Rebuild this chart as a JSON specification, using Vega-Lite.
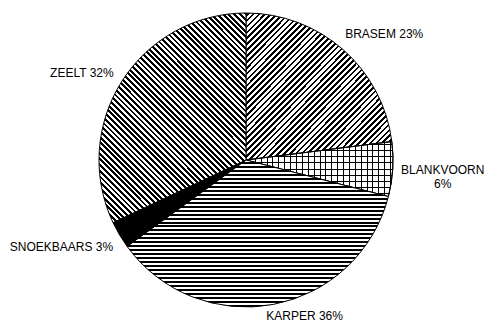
{
"$schema": "https://vega.github.io/schema/vega-lite/v6.json",
"width": 480, "height": 320,
"autosize": "none",
"padding": {"left": 6, "top": 0, "right": 0, "bottom": 3},
"background": "white",
"config": {"view": {"stroke": null}},
"data": {"values": [
{"name":"BRASEM","value":23,"label":"BRASEM 23%"},
{"name":"BLANKVOORN","value":6,"label":"BLANKVOORN\n6%"},
{"name":"KARPER","value":36,"label":"KARPER 36%"},
{"name":"SNOEKBAARS","value":3,"label":"SNOEKBAARS 3%"},
{"name":"ZEELT","value":32,"label":"ZEELT 32%"}
]},
"transform": [
{"stack": "value", "groupby": [], "as": ["v0", "v1"]},
{"calculate": "(datum.v0 + datum.v1) / 2", "as": "mid"}
],
"layer": [
{"transform": [{"filter": "datum.name === 'BRASEM'"}],
 "mark": {"type": "arc", "outerRadius": 147, "stroke": "#000", "strokeWidth": 1,
  "fill": {"gradient": "linear", "x1": 0, "y1": 0, "x2": 1, "y2": 1, "stops": [
{"offset":0,"color":"#fff"},
{"offset":0.005,"color":"#fff"},{"offset":0.005,"color":"#000"},{"offset":0.014,"color":"#000"},{"offset":0.014,"color":"#fff"},
{"offset":0.025,"color":"#fff"},{"offset":0.025,"color":"#000"},{"offset":0.034,"color":"#000"},{"offset":0.034,"color":"#fff"},
{"offset":0.045,"color":"#fff"},{"offset":0.045,"color":"#000"},{"offset":0.054,"color":"#000"},{"offset":0.054,"color":"#fff"},
{"offset":0.065,"color":"#fff"},{"offset":0.065,"color":"#000"},{"offset":0.074,"color":"#000"},{"offset":0.074,"color":"#fff"},
{"offset":0.085,"color":"#fff"},{"offset":0.085,"color":"#000"},{"offset":0.094,"color":"#000"},{"offset":0.094,"color":"#fff"},
{"offset":0.105,"color":"#fff"},{"offset":0.105,"color":"#000"},{"offset":0.114,"color":"#000"},{"offset":0.114,"color":"#fff"},
{"offset":0.125,"color":"#fff"},{"offset":0.125,"color":"#000"},{"offset":0.134,"color":"#000"},{"offset":0.134,"color":"#fff"},
{"offset":0.145,"color":"#fff"},{"offset":0.145,"color":"#000"},{"offset":0.154,"color":"#000"},{"offset":0.154,"color":"#fff"},
{"offset":0.165,"color":"#fff"},{"offset":0.165,"color":"#000"},{"offset":0.174,"color":"#000"},{"offset":0.174,"color":"#fff"},
{"offset":0.185,"color":"#fff"},{"offset":0.185,"color":"#000"},{"offset":0.194,"color":"#000"},{"offset":0.194,"color":"#fff"},
{"offset":0.205,"color":"#fff"},{"offset":0.205,"color":"#000"},{"offset":0.214,"color":"#000"},{"offset":0.214,"color":"#fff"},
{"offset":0.225,"color":"#fff"},{"offset":0.225,"color":"#000"},{"offset":0.234,"color":"#000"},{"offset":0.234,"color":"#fff"},
{"offset":0.245,"color":"#fff"},{"offset":0.245,"color":"#000"},{"offset":0.254,"color":"#000"},{"offset":0.254,"color":"#fff"},
{"offset":0.265,"color":"#fff"},{"offset":0.265,"color":"#000"},{"offset":0.274,"color":"#000"},{"offset":0.274,"color":"#fff"},
{"offset":0.285,"color":"#fff"},{"offset":0.285,"color":"#000"},{"offset":0.294,"color":"#000"},{"offset":0.294,"color":"#fff"},
{"offset":0.305,"color":"#fff"},{"offset":0.305,"color":"#000"},{"offset":0.314,"color":"#000"},{"offset":0.314,"color":"#fff"},
{"offset":0.325,"color":"#fff"},{"offset":0.325,"color":"#000"},{"offset":0.334,"color":"#000"},{"offset":0.334,"color":"#fff"},
{"offset":0.345,"color":"#fff"},{"offset":0.345,"color":"#000"},{"offset":0.354,"color":"#000"},{"offset":0.354,"color":"#fff"},
{"offset":0.365,"color":"#fff"},{"offset":0.365,"color":"#000"},{"offset":0.374,"color":"#000"},{"offset":0.374,"color":"#fff"},
{"offset":0.385,"color":"#fff"},{"offset":0.385,"color":"#000"},{"offset":0.394,"color":"#000"},{"offset":0.394,"color":"#fff"},
{"offset":0.405,"color":"#fff"},{"offset":0.405,"color":"#000"},{"offset":0.414,"color":"#000"},{"offset":0.414,"color":"#fff"},
{"offset":0.425,"color":"#fff"},{"offset":0.425,"color":"#000"},{"offset":0.434,"color":"#000"},{"offset":0.434,"color":"#fff"},
{"offset":0.445,"color":"#fff"},{"offset":0.445,"color":"#000"},{"offset":0.454,"color":"#000"},{"offset":0.454,"color":"#fff"},
{"offset":0.465,"color":"#fff"},{"offset":0.465,"color":"#000"},{"offset":0.474,"color":"#000"},{"offset":0.474,"color":"#fff"},
{"offset":0.485,"color":"#fff"},{"offset":0.485,"color":"#000"},{"offset":0.494,"color":"#000"},{"offset":0.494,"color":"#fff"},
{"offset":0.505,"color":"#fff"},{"offset":0.505,"color":"#000"},{"offset":0.514,"color":"#000"},{"offset":0.514,"color":"#fff"},
{"offset":0.525,"color":"#fff"},{"offset":0.525,"color":"#000"},{"offset":0.534,"color":"#000"},{"offset":0.534,"color":"#fff"},
{"offset":0.545,"color":"#fff"},{"offset":0.545,"color":"#000"},{"offset":0.554,"color":"#000"},{"offset":0.554,"color":"#fff"},
{"offset":0.565,"color":"#fff"},{"offset":0.565,"color":"#000"},{"offset":0.574,"color":"#000"},{"offset":0.574,"color":"#fff"},
{"offset":0.585,"color":"#fff"},{"offset":0.585,"color":"#000"},{"offset":0.594,"color":"#000"},{"offset":0.594,"color":"#fff"},
{"offset":0.605,"color":"#fff"},{"offset":0.605,"color":"#000"},{"offset":0.614,"color":"#000"},{"offset":0.614,"color":"#fff"},
{"offset":0.625,"color":"#fff"},{"offset":0.625,"color":"#000"},{"offset":0.634,"color":"#000"},{"offset":0.634,"color":"#fff"},
{"offset":0.645,"color":"#fff"},{"offset":0.645,"color":"#000"},{"offset":0.654,"color":"#000"},{"offset":0.654,"color":"#fff"},
{"offset":0.665,"color":"#fff"},{"offset":0.665,"color":"#000"},{"offset":0.674,"color":"#000"},{"offset":0.674,"color":"#fff"},
{"offset":0.685,"color":"#fff"},{"offset":0.685,"color":"#000"},{"offset":0.694,"color":"#000"},{"offset":0.694,"color":"#fff"},
{"offset":0.705,"color":"#fff"},{"offset":0.705,"color":"#000"},{"offset":0.714,"color":"#000"},{"offset":0.714,"color":"#fff"},
{"offset":0.725,"color":"#fff"},{"offset":0.725,"color":"#000"},{"offset":0.734,"color":"#000"},{"offset":0.734,"color":"#fff"},
{"offset":0.745,"color":"#fff"},{"offset":0.745,"color":"#000"},{"offset":0.754,"color":"#000"},{"offset":0.754,"color":"#fff"},
{"offset":0.765,"color":"#fff"},{"offset":0.765,"color":"#000"},{"offset":0.774,"color":"#000"},{"offset":0.774,"color":"#fff"},
{"offset":0.785,"color":"#fff"},{"offset":0.785,"color":"#000"},{"offset":0.794,"color":"#000"},{"offset":0.794,"color":"#fff"},
{"offset":0.805,"color":"#fff"},{"offset":0.805,"color":"#000"},{"offset":0.814,"color":"#000"},{"offset":0.814,"color":"#fff"},
{"offset":0.825,"color":"#fff"},{"offset":0.825,"color":"#000"},{"offset":0.834,"color":"#000"},{"offset":0.834,"color":"#fff"},
{"offset":0.845,"color":"#fff"},{"offset":0.845,"color":"#000"},{"offset":0.854,"color":"#000"},{"offset":0.854,"color":"#fff"},
{"offset":0.865,"color":"#fff"},{"offset":0.865,"color":"#000"},{"offset":0.874,"color":"#000"},{"offset":0.874,"color":"#fff"},
{"offset":0.885,"color":"#fff"},{"offset":0.885,"color":"#000"},{"offset":0.894,"color":"#000"},{"offset":0.894,"color":"#fff"},
{"offset":0.905,"color":"#fff"},{"offset":0.905,"color":"#000"},{"offset":0.914,"color":"#000"},{"offset":0.914,"color":"#fff"},
{"offset":0.925,"color":"#fff"},{"offset":0.925,"color":"#000"},{"offset":0.934,"color":"#000"},{"offset":0.934,"color":"#fff"},
{"offset":0.945,"color":"#fff"},{"offset":0.945,"color":"#000"},{"offset":0.954,"color":"#000"},{"offset":0.954,"color":"#fff"},
{"offset":0.965,"color":"#fff"},{"offset":0.965,"color":"#000"},{"offset":0.974,"color":"#000"},{"offset":0.974,"color":"#fff"},
{"offset":0.985,"color":"#fff"},{"offset":0.985,"color":"#000"},{"offset":0.994,"color":"#000"},{"offset":0.994,"color":"#fff"},
{"offset":1,"color":"#fff"}
  ]}},
 "encoding": {"theta": {"field": "v0", "type": "quantitative", "stack": null, "scale": {"domain": [0, 100]}}, "theta2": {"field": "v1"}}},
{"transform": [{"filter": "datum.name === 'BLANKVOORN'"}],
 "mark": {"type": "arc", "outerRadius": 147, "stroke": "#000", "strokeWidth": 1,
  "fill": {"gradient": "linear", "x1": 0, "y1": 0, "x2": 1, "y2": 0, "stops": [
{"offset":0,"color":"#fff"},
{"offset":0.02,"color":"#fff"},{"offset":0.02,"color":"#000"},{"offset":0.027,"color":"#000"},{"offset":0.027,"color":"#fff"},
{"offset":0.06,"color":"#fff"},{"offset":0.06,"color":"#000"},{"offset":0.067,"color":"#000"},{"offset":0.067,"color":"#fff"},
{"offset":0.1,"color":"#fff"},{"offset":0.1,"color":"#000"},{"offset":0.107,"color":"#000"},{"offset":0.107,"color":"#fff"},
{"offset":0.14,"color":"#fff"},{"offset":0.14,"color":"#000"},{"offset":0.147,"color":"#000"},{"offset":0.147,"color":"#fff"},
{"offset":0.18,"color":"#fff"},{"offset":0.18,"color":"#000"},{"offset":0.187,"color":"#000"},{"offset":0.187,"color":"#fff"},
{"offset":0.22,"color":"#fff"},{"offset":0.22,"color":"#000"},{"offset":0.227,"color":"#000"},{"offset":0.227,"color":"#fff"},
{"offset":0.26,"color":"#fff"},{"offset":0.26,"color":"#000"},{"offset":0.267,"color":"#000"},{"offset":0.267,"color":"#fff"},
{"offset":0.3,"color":"#fff"},{"offset":0.3,"color":"#000"},{"offset":0.307,"color":"#000"},{"offset":0.307,"color":"#fff"},
{"offset":0.34,"color":"#fff"},{"offset":0.34,"color":"#000"},{"offset":0.347,"color":"#000"},{"offset":0.347,"color":"#fff"},
{"offset":0.38,"color":"#fff"},{"offset":0.38,"color":"#000"},{"offset":0.387,"color":"#000"},{"offset":0.387,"color":"#fff"},
{"offset":0.42,"color":"#fff"},{"offset":0.42,"color":"#000"},{"offset":0.427,"color":"#000"},{"offset":0.427,"color":"#fff"},
{"offset":0.46,"color":"#fff"},{"offset":0.46,"color":"#000"},{"offset":0.467,"color":"#000"},{"offset":0.467,"color":"#fff"},
{"offset":0.5,"color":"#fff"},{"offset":0.5,"color":"#000"},{"offset":0.507,"color":"#000"},{"offset":0.507,"color":"#fff"},
{"offset":0.54,"color":"#fff"},{"offset":0.54,"color":"#000"},{"offset":0.547,"color":"#000"},{"offset":0.547,"color":"#fff"},
{"offset":0.58,"color":"#fff"},{"offset":0.58,"color":"#000"},{"offset":0.587,"color":"#000"},{"offset":0.587,"color":"#fff"},
{"offset":0.62,"color":"#fff"},{"offset":0.62,"color":"#000"},{"offset":0.627,"color":"#000"},{"offset":0.627,"color":"#fff"},
{"offset":0.66,"color":"#fff"},{"offset":0.66,"color":"#000"},{"offset":0.667,"color":"#000"},{"offset":0.667,"color":"#fff"},
{"offset":0.7,"color":"#fff"},{"offset":0.7,"color":"#000"},{"offset":0.707,"color":"#000"},{"offset":0.707,"color":"#fff"},
{"offset":0.74,"color":"#fff"},{"offset":0.74,"color":"#000"},{"offset":0.747,"color":"#000"},{"offset":0.747,"color":"#fff"},
{"offset":0.78,"color":"#fff"},{"offset":0.78,"color":"#000"},{"offset":0.787,"color":"#000"},{"offset":0.787,"color":"#fff"},
{"offset":0.82,"color":"#fff"},{"offset":0.82,"color":"#000"},{"offset":0.827,"color":"#000"},{"offset":0.827,"color":"#fff"},
{"offset":0.86,"color":"#fff"},{"offset":0.86,"color":"#000"},{"offset":0.867,"color":"#000"},{"offset":0.867,"color":"#fff"},
{"offset":0.9,"color":"#fff"},{"offset":0.9,"color":"#000"},{"offset":0.907,"color":"#000"},{"offset":0.907,"color":"#fff"},
{"offset":0.94,"color":"#fff"},{"offset":0.94,"color":"#000"},{"offset":0.947,"color":"#000"},{"offset":0.947,"color":"#fff"},
{"offset":0.98,"color":"#fff"},{"offset":0.98,"color":"#000"},{"offset":0.987,"color":"#000"},{"offset":0.987,"color":"#fff"},
{"offset":1,"color":"#fff"}
  ]}},
 "encoding": {"theta": {"field": "v0", "type": "quantitative", "stack": null, "scale": {"domain": [0, 100]}}, "theta2": {"field": "v1"}}},
{"transform": [{"filter": "datum.name === 'BLANKVOORN'"}],
 "mark": {"type": "arc", "outerRadius": 147, "stroke": "#000", "strokeWidth": 1,
  "fill": {"gradient": "linear", "x1": 0, "y1": 0, "x2": 0, "y2": 1, "stops": [
{"offset":0,"color":"rgba(0,0,0,0)"},
{"offset":0.05,"color":"rgba(0,0,0,0)"},{"offset":0.05,"color":"#000"},{"offset":0.068,"color":"#000"},{"offset":0.068,"color":"rgba(0,0,0,0)"},
{"offset":0.16,"color":"rgba(0,0,0,0)"},{"offset":0.16,"color":"#000"},{"offset":0.178,"color":"#000"},{"offset":0.178,"color":"rgba(0,0,0,0)"},
{"offset":0.27,"color":"rgba(0,0,0,0)"},{"offset":0.27,"color":"#000"},{"offset":0.288,"color":"#000"},{"offset":0.288,"color":"rgba(0,0,0,0)"},
{"offset":0.38,"color":"rgba(0,0,0,0)"},{"offset":0.38,"color":"#000"},{"offset":0.398,"color":"#000"},{"offset":0.398,"color":"rgba(0,0,0,0)"},
{"offset":0.49,"color":"rgba(0,0,0,0)"},{"offset":0.49,"color":"#000"},{"offset":0.508,"color":"#000"},{"offset":0.508,"color":"rgba(0,0,0,0)"},
{"offset":0.6,"color":"rgba(0,0,0,0)"},{"offset":0.6,"color":"#000"},{"offset":0.618,"color":"#000"},{"offset":0.618,"color":"rgba(0,0,0,0)"},
{"offset":0.71,"color":"rgba(0,0,0,0)"},{"offset":0.71,"color":"#000"},{"offset":0.728,"color":"#000"},{"offset":0.728,"color":"rgba(0,0,0,0)"},
{"offset":0.82,"color":"rgba(0,0,0,0)"},{"offset":0.82,"color":"#000"},{"offset":0.838,"color":"#000"},{"offset":0.838,"color":"rgba(0,0,0,0)"},
{"offset":0.93,"color":"rgba(0,0,0,0)"},{"offset":0.93,"color":"#000"},{"offset":0.948,"color":"#000"},{"offset":0.948,"color":"rgba(0,0,0,0)"},
{"offset":1,"color":"rgba(0,0,0,0)"}
  ]}},
 "encoding": {"theta": {"field": "v0", "type": "quantitative", "stack": null, "scale": {"domain": [0, 100]}}, "theta2": {"field": "v1"}}},
{"transform": [{"filter": "datum.name === 'KARPER'"}],
 "mark": {"type": "arc", "outerRadius": 147, "stroke": "#000", "strokeWidth": 1,
  "fill": {"gradient": "linear", "x1": 0, "y1": 0, "x2": 0, "y2": 1, "stops": [
{"offset":0,"color":"#fff"},
{"offset":0.0135,"color":"#fff"},{"offset":0.0135,"color":"#000"},{"offset":0.027,"color":"#000"},{"offset":0.027,"color":"#fff"},
{"offset":0.0405,"color":"#fff"},{"offset":0.0405,"color":"#000"},{"offset":0.054,"color":"#000"},{"offset":0.054,"color":"#fff"},
{"offset":0.0675,"color":"#fff"},{"offset":0.0675,"color":"#000"},{"offset":0.081,"color":"#000"},{"offset":0.081,"color":"#fff"},
{"offset":0.0945,"color":"#fff"},{"offset":0.0945,"color":"#000"},{"offset":0.108,"color":"#000"},{"offset":0.108,"color":"#fff"},
{"offset":0.1215,"color":"#fff"},{"offset":0.1215,"color":"#000"},{"offset":0.135,"color":"#000"},{"offset":0.135,"color":"#fff"},
{"offset":0.1485,"color":"#fff"},{"offset":0.1485,"color":"#000"},{"offset":0.162,"color":"#000"},{"offset":0.162,"color":"#fff"},
{"offset":0.1755,"color":"#fff"},{"offset":0.1755,"color":"#000"},{"offset":0.189,"color":"#000"},{"offset":0.189,"color":"#fff"},
{"offset":0.2025,"color":"#fff"},{"offset":0.2025,"color":"#000"},{"offset":0.216,"color":"#000"},{"offset":0.216,"color":"#fff"},
{"offset":0.2295,"color":"#fff"},{"offset":0.2295,"color":"#000"},{"offset":0.243,"color":"#000"},{"offset":0.243,"color":"#fff"},
{"offset":0.2565,"color":"#fff"},{"offset":0.2565,"color":"#000"},{"offset":0.27,"color":"#000"},{"offset":0.27,"color":"#fff"},
{"offset":0.2835,"color":"#fff"},{"offset":0.2835,"color":"#000"},{"offset":0.297,"color":"#000"},{"offset":0.297,"color":"#fff"},
{"offset":0.3105,"color":"#fff"},{"offset":0.3105,"color":"#000"},{"offset":0.324,"color":"#000"},{"offset":0.324,"color":"#fff"},
{"offset":0.3375,"color":"#fff"},{"offset":0.3375,"color":"#000"},{"offset":0.351,"color":"#000"},{"offset":0.351,"color":"#fff"},
{"offset":0.3645,"color":"#fff"},{"offset":0.3645,"color":"#000"},{"offset":0.378,"color":"#000"},{"offset":0.378,"color":"#fff"},
{"offset":0.3915,"color":"#fff"},{"offset":0.3915,"color":"#000"},{"offset":0.405,"color":"#000"},{"offset":0.405,"color":"#fff"},
{"offset":0.4185,"color":"#fff"},{"offset":0.4185,"color":"#000"},{"offset":0.432,"color":"#000"},{"offset":0.432,"color":"#fff"},
{"offset":0.4455,"color":"#fff"},{"offset":0.4455,"color":"#000"},{"offset":0.459,"color":"#000"},{"offset":0.459,"color":"#fff"},
{"offset":0.4725,"color":"#fff"},{"offset":0.4725,"color":"#000"},{"offset":0.486,"color":"#000"},{"offset":0.486,"color":"#fff"},
{"offset":0.4995,"color":"#fff"},{"offset":0.4995,"color":"#000"},{"offset":0.513,"color":"#000"},{"offset":0.513,"color":"#fff"},
{"offset":0.5265,"color":"#fff"},{"offset":0.5265,"color":"#000"},{"offset":0.54,"color":"#000"},{"offset":0.54,"color":"#fff"},
{"offset":0.5535,"color":"#fff"},{"offset":0.5535,"color":"#000"},{"offset":0.567,"color":"#000"},{"offset":0.567,"color":"#fff"},
{"offset":0.5805,"color":"#fff"},{"offset":0.5805,"color":"#000"},{"offset":0.594,"color":"#000"},{"offset":0.594,"color":"#fff"},
{"offset":0.6075,"color":"#fff"},{"offset":0.6075,"color":"#000"},{"offset":0.621,"color":"#000"},{"offset":0.621,"color":"#fff"},
{"offset":0.6345,"color":"#fff"},{"offset":0.6345,"color":"#000"},{"offset":0.648,"color":"#000"},{"offset":0.648,"color":"#fff"},
{"offset":0.6615,"color":"#fff"},{"offset":0.6615,"color":"#000"},{"offset":0.675,"color":"#000"},{"offset":0.675,"color":"#fff"},
{"offset":0.6885,"color":"#fff"},{"offset":0.6885,"color":"#000"},{"offset":0.702,"color":"#000"},{"offset":0.702,"color":"#fff"},
{"offset":0.7155,"color":"#fff"},{"offset":0.7155,"color":"#000"},{"offset":0.729,"color":"#000"},{"offset":0.729,"color":"#fff"},
{"offset":0.7425,"color":"#fff"},{"offset":0.7425,"color":"#000"},{"offset":0.756,"color":"#000"},{"offset":0.756,"color":"#fff"},
{"offset":0.7695,"color":"#fff"},{"offset":0.7695,"color":"#000"},{"offset":0.783,"color":"#000"},{"offset":0.783,"color":"#fff"},
{"offset":0.7965,"color":"#fff"},{"offset":0.7965,"color":"#000"},{"offset":0.81,"color":"#000"},{"offset":0.81,"color":"#fff"},
{"offset":0.8235,"color":"#fff"},{"offset":0.8235,"color":"#000"},{"offset":0.837,"color":"#000"},{"offset":0.837,"color":"#fff"},
{"offset":0.8505,"color":"#fff"},{"offset":0.8505,"color":"#000"},{"offset":0.864,"color":"#000"},{"offset":0.864,"color":"#fff"},
{"offset":0.8775,"color":"#fff"},{"offset":0.8775,"color":"#000"},{"offset":0.891,"color":"#000"},{"offset":0.891,"color":"#fff"},
{"offset":0.9045,"color":"#fff"},{"offset":0.9045,"color":"#000"},{"offset":0.918,"color":"#000"},{"offset":0.918,"color":"#fff"},
{"offset":0.9315,"color":"#fff"},{"offset":0.9315,"color":"#000"},{"offset":0.945,"color":"#000"},{"offset":0.945,"color":"#fff"},
{"offset":0.9585,"color":"#fff"},{"offset":0.9585,"color":"#000"},{"offset":0.972,"color":"#000"},{"offset":0.972,"color":"#fff"},
{"offset":0.9855,"color":"#fff"},{"offset":0.9855,"color":"#000"},{"offset":0.999,"color":"#000"},{"offset":0.999,"color":"#fff"},
{"offset":1,"color":"#fff"}
  ]}},
 "encoding": {"theta": {"field": "v0", "type": "quantitative", "stack": null, "scale": {"domain": [0, 100]}}, "theta2": {"field": "v1"}}},
{"transform": [{"filter": "datum.name === 'SNOEKBAARS'"}],
 "mark": {"type": "arc", "outerRadius": 147, "stroke": "#000", "strokeWidth": 1, "fill": "#000"},
 "encoding": {"theta": {"field": "v0", "type": "quantitative", "stack": null, "scale": {"domain": [0, 100]}}, "theta2": {"field": "v1"}}},
{"transform": [{"filter": "datum.name === 'ZEELT'"}],
 "mark": {"type": "arc", "outerRadius": 147, "stroke": "#000", "strokeWidth": 1,
  "fill": {"gradient": "linear", "x1": 0, "y1": 1, "x2": 0.8, "y2": -0.14, "stops": [
{"offset":0,"color":"#000"},
{"offset":0.008,"color":"#000"},{"offset":0.008,"color":"#fff"},{"offset":0.016,"color":"#fff"},{"offset":0.016,"color":"#000"},
{"offset":0.024,"color":"#000"},{"offset":0.024,"color":"#fff"},{"offset":0.032,"color":"#fff"},{"offset":0.032,"color":"#000"},
{"offset":0.04,"color":"#000"},{"offset":0.04,"color":"#fff"},{"offset":0.048,"color":"#fff"},{"offset":0.048,"color":"#000"},
{"offset":0.056,"color":"#000"},{"offset":0.056,"color":"#fff"},{"offset":0.064,"color":"#fff"},{"offset":0.064,"color":"#000"},
{"offset":0.072,"color":"#000"},{"offset":0.072,"color":"#fff"},{"offset":0.08,"color":"#fff"},{"offset":0.08,"color":"#000"},
{"offset":0.088,"color":"#000"},{"offset":0.088,"color":"#fff"},{"offset":0.096,"color":"#fff"},{"offset":0.096,"color":"#000"},
{"offset":0.104,"color":"#000"},{"offset":0.104,"color":"#fff"},{"offset":0.112,"color":"#fff"},{"offset":0.112,"color":"#000"},
{"offset":0.12,"color":"#000"},{"offset":0.12,"color":"#fff"},{"offset":0.128,"color":"#fff"},{"offset":0.128,"color":"#000"},
{"offset":0.136,"color":"#000"},{"offset":0.136,"color":"#fff"},{"offset":0.144,"color":"#fff"},{"offset":0.144,"color":"#000"},
{"offset":0.152,"color":"#000"},{"offset":0.152,"color":"#fff"},{"offset":0.16,"color":"#fff"},{"offset":0.16,"color":"#000"},
{"offset":0.168,"color":"#000"},{"offset":0.168,"color":"#fff"},{"offset":0.176,"color":"#fff"},{"offset":0.176,"color":"#000"},
{"offset":0.184,"color":"#000"},{"offset":0.184,"color":"#fff"},{"offset":0.192,"color":"#fff"},{"offset":0.192,"color":"#000"},
{"offset":0.2,"color":"#000"},{"offset":0.2,"color":"#fff"},{"offset":0.208,"color":"#fff"},{"offset":0.208,"color":"#000"},
{"offset":0.216,"color":"#000"},{"offset":0.216,"color":"#fff"},{"offset":0.224,"color":"#fff"},{"offset":0.224,"color":"#000"},
{"offset":0.232,"color":"#000"},{"offset":0.232,"color":"#fff"},{"offset":0.24,"color":"#fff"},{"offset":0.24,"color":"#000"},
{"offset":0.248,"color":"#000"},{"offset":0.248,"color":"#fff"},{"offset":0.256,"color":"#fff"},{"offset":0.256,"color":"#000"},
{"offset":0.264,"color":"#000"},{"offset":0.264,"color":"#fff"},{"offset":0.272,"color":"#fff"},{"offset":0.272,"color":"#000"},
{"offset":0.28,"color":"#000"},{"offset":0.28,"color":"#fff"},{"offset":0.288,"color":"#fff"},{"offset":0.288,"color":"#000"},
{"offset":0.296,"color":"#000"},{"offset":0.296,"color":"#fff"},{"offset":0.304,"color":"#fff"},{"offset":0.304,"color":"#000"},
{"offset":0.312,"color":"#000"},{"offset":0.312,"color":"#fff"},{"offset":0.32,"color":"#fff"},{"offset":0.32,"color":"#000"},
{"offset":0.328,"color":"#000"},{"offset":0.328,"color":"#fff"},{"offset":0.336,"color":"#fff"},{"offset":0.336,"color":"#000"},
{"offset":0.344,"color":"#000"},{"offset":0.344,"color":"#fff"},{"offset":0.352,"color":"#fff"},{"offset":0.352,"color":"#000"},
{"offset":0.36,"color":"#000"},{"offset":0.36,"color":"#fff"},{"offset":0.368,"color":"#fff"},{"offset":0.368,"color":"#000"},
{"offset":0.376,"color":"#000"},{"offset":0.376,"color":"#fff"},{"offset":0.384,"color":"#fff"},{"offset":0.384,"color":"#000"},
{"offset":0.392,"color":"#000"},{"offset":0.392,"color":"#fff"},{"offset":0.4,"color":"#fff"},{"offset":0.4,"color":"#000"},
{"offset":0.408,"color":"#000"},{"offset":0.408,"color":"#fff"},{"offset":0.416,"color":"#fff"},{"offset":0.416,"color":"#000"},
{"offset":0.424,"color":"#000"},{"offset":0.424,"color":"#fff"},{"offset":0.432,"color":"#fff"},{"offset":0.432,"color":"#000"},
{"offset":0.44,"color":"#000"},{"offset":0.44,"color":"#fff"},{"offset":0.448,"color":"#fff"},{"offset":0.448,"color":"#000"},
{"offset":0.456,"color":"#000"},{"offset":0.456,"color":"#fff"},{"offset":0.464,"color":"#fff"},{"offset":0.464,"color":"#000"},
{"offset":0.472,"color":"#000"},{"offset":0.472,"color":"#fff"},{"offset":0.48,"color":"#fff"},{"offset":0.48,"color":"#000"},
{"offset":0.488,"color":"#000"},{"offset":0.488,"color":"#fff"},{"offset":0.496,"color":"#fff"},{"offset":0.496,"color":"#000"},
{"offset":0.504,"color":"#000"},{"offset":0.504,"color":"#fff"},{"offset":0.512,"color":"#fff"},{"offset":0.512,"color":"#000"},
{"offset":0.52,"color":"#000"},{"offset":0.52,"color":"#fff"},{"offset":0.528,"color":"#fff"},{"offset":0.528,"color":"#000"},
{"offset":0.536,"color":"#000"},{"offset":0.536,"color":"#fff"},{"offset":0.544,"color":"#fff"},{"offset":0.544,"color":"#000"},
{"offset":0.552,"color":"#000"},{"offset":0.552,"color":"#fff"},{"offset":0.56,"color":"#fff"},{"offset":0.56,"color":"#000"},
{"offset":0.568,"color":"#000"},{"offset":0.568,"color":"#fff"},{"offset":0.576,"color":"#fff"},{"offset":0.576,"color":"#000"},
{"offset":0.584,"color":"#000"},{"offset":0.584,"color":"#fff"},{"offset":0.592,"color":"#fff"},{"offset":0.592,"color":"#000"},
{"offset":0.6,"color":"#000"},{"offset":0.6,"color":"#fff"},{"offset":0.608,"color":"#fff"},{"offset":0.608,"color":"#000"},
{"offset":0.616,"color":"#000"},{"offset":0.616,"color":"#fff"},{"offset":0.624,"color":"#fff"},{"offset":0.624,"color":"#000"},
{"offset":0.632,"color":"#000"},{"offset":0.632,"color":"#fff"},{"offset":0.64,"color":"#fff"},{"offset":0.64,"color":"#000"},
{"offset":0.648,"color":"#000"},{"offset":0.648,"color":"#fff"},{"offset":0.656,"color":"#fff"},{"offset":0.656,"color":"#000"},
{"offset":0.664,"color":"#000"},{"offset":0.664,"color":"#fff"},{"offset":0.672,"color":"#fff"},{"offset":0.672,"color":"#000"},
{"offset":0.68,"color":"#000"},{"offset":0.68,"color":"#fff"},{"offset":0.688,"color":"#fff"},{"offset":0.688,"color":"#000"},
{"offset":0.696,"color":"#000"},{"offset":0.696,"color":"#fff"},{"offset":0.704,"color":"#fff"},{"offset":0.704,"color":"#000"},
{"offset":0.712,"color":"#000"},{"offset":0.712,"color":"#fff"},{"offset":0.72,"color":"#fff"},{"offset":0.72,"color":"#000"},
{"offset":0.728,"color":"#000"},{"offset":0.728,"color":"#fff"},{"offset":0.736,"color":"#fff"},{"offset":0.736,"color":"#000"},
{"offset":0.744,"color":"#000"},{"offset":0.744,"color":"#fff"},{"offset":0.752,"color":"#fff"},{"offset":0.752,"color":"#000"},
{"offset":0.76,"color":"#000"},{"offset":0.76,"color":"#fff"},{"offset":0.768,"color":"#fff"},{"offset":0.768,"color":"#000"},
{"offset":0.776,"color":"#000"},{"offset":0.776,"color":"#fff"},{"offset":0.784,"color":"#fff"},{"offset":0.784,"color":"#000"},
{"offset":0.792,"color":"#000"},{"offset":0.792,"color":"#fff"},{"offset":0.8,"color":"#fff"},{"offset":0.8,"color":"#000"},
{"offset":0.808,"color":"#000"},{"offset":0.808,"color":"#fff"},{"offset":0.816,"color":"#fff"},{"offset":0.816,"color":"#000"},
{"offset":0.824,"color":"#000"},{"offset":0.824,"color":"#fff"},{"offset":0.832,"color":"#fff"},{"offset":0.832,"color":"#000"},
{"offset":0.84,"color":"#000"},{"offset":0.84,"color":"#fff"},{"offset":0.848,"color":"#fff"},{"offset":0.848,"color":"#000"},
{"offset":0.856,"color":"#000"},{"offset":0.856,"color":"#fff"},{"offset":0.864,"color":"#fff"},{"offset":0.864,"color":"#000"},
{"offset":0.872,"color":"#000"},{"offset":0.872,"color":"#fff"},{"offset":0.88,"color":"#fff"},{"offset":0.88,"color":"#000"},
{"offset":0.888,"color":"#000"},{"offset":0.888,"color":"#fff"},{"offset":0.896,"color":"#fff"},{"offset":0.896,"color":"#000"},
{"offset":0.904,"color":"#000"},{"offset":0.904,"color":"#fff"},{"offset":0.912,"color":"#fff"},{"offset":0.912,"color":"#000"},
{"offset":0.92,"color":"#000"},{"offset":0.92,"color":"#fff"},{"offset":0.928,"color":"#fff"},{"offset":0.928,"color":"#000"},
{"offset":0.936,"color":"#000"},{"offset":0.936,"color":"#fff"},{"offset":0.944,"color":"#fff"},{"offset":0.944,"color":"#000"},
{"offset":0.952,"color":"#000"},{"offset":0.952,"color":"#fff"},{"offset":0.96,"color":"#fff"},{"offset":0.96,"color":"#000"},
{"offset":0.968,"color":"#000"},{"offset":0.968,"color":"#fff"},{"offset":0.976,"color":"#fff"},{"offset":0.976,"color":"#000"},
{"offset":0.984,"color":"#000"},{"offset":0.984,"color":"#fff"},{"offset":0.992,"color":"#fff"},{"offset":0.992,"color":"#000"},
{"offset":1,"color":"#000"}
  ]}},
 "encoding": {"theta": {"field": "v0", "type": "quantitative", "stack": null, "scale": {"domain": [0, 100]}}, "theta2": {"field": "v1"}}},
{"transform": [{"filter": "datum.name === 'BRASEM'"}],
 "mark": {"type": "text", "radius": 147, "align": "center", "baseline": "middle", "dx": 41, "dy": -16, "font": "Liberation Sans", "fontSize": 12, "fill": "#000", "lineBreak": "\n", "lineHeight": 14},
 "encoding": {"theta": {"field": "mid", "type": "quantitative", "stack": null, "scale": {"domain": [0, 100]}}, "text": {"field": "label"}}},
{"transform": [{"filter": "datum.name === 'BLANKVOORN'"}],
 "mark": {"type": "text", "radius": 147, "align": "center", "baseline": "middle", "dx": 50, "dy": 1, "font": "Liberation Sans", "fontSize": 12, "fill": "#000", "lineBreak": "\n", "lineHeight": 14},
 "encoding": {"theta": {"field": "mid", "type": "quantitative", "stack": null, "scale": {"domain": [0, 100]}}, "text": {"field": "label"}}},
{"transform": [{"filter": "datum.name === 'KARPER'"}],
 "mark": {"type": "text", "radius": 147, "align": "center", "baseline": "middle", "dx": 31, "dy": 12, "font": "Liberation Sans", "fontSize": 12, "fill": "#000", "lineBreak": "\n", "lineHeight": 14},
 "encoding": {"theta": {"field": "mid", "type": "quantitative", "stack": null, "scale": {"domain": [0, 100]}}, "text": {"field": "label"}}},
{"transform": [{"filter": "datum.name === 'SNOEKBAARS'"}],
 "mark": {"type": "text", "radius": 147, "align": "center", "baseline": "middle", "dx": -58, "dy": 12, "font": "Liberation Sans", "fontSize": 12, "fill": "#000", "lineBreak": "\n", "lineHeight": 14},
 "encoding": {"theta": {"field": "mid", "type": "quantitative", "stack": null, "scale": {"domain": [0, 100]}}, "text": {"field": "label"}}},
{"transform": [{"filter": "datum.name === 'ZEELT'"}],
 "mark": {"type": "text", "radius": 147, "align": "center", "baseline": "middle", "dx": -40, "dy": -8, "font": "Liberation Sans", "fontSize": 12, "fill": "#000", "lineBreak": "\n", "lineHeight": 14},
 "encoding": {"theta": {"field": "mid", "type": "quantitative", "stack": null, "scale": {"domain": [0, 100]}}, "text": {"field": "label"}}}
]
}
